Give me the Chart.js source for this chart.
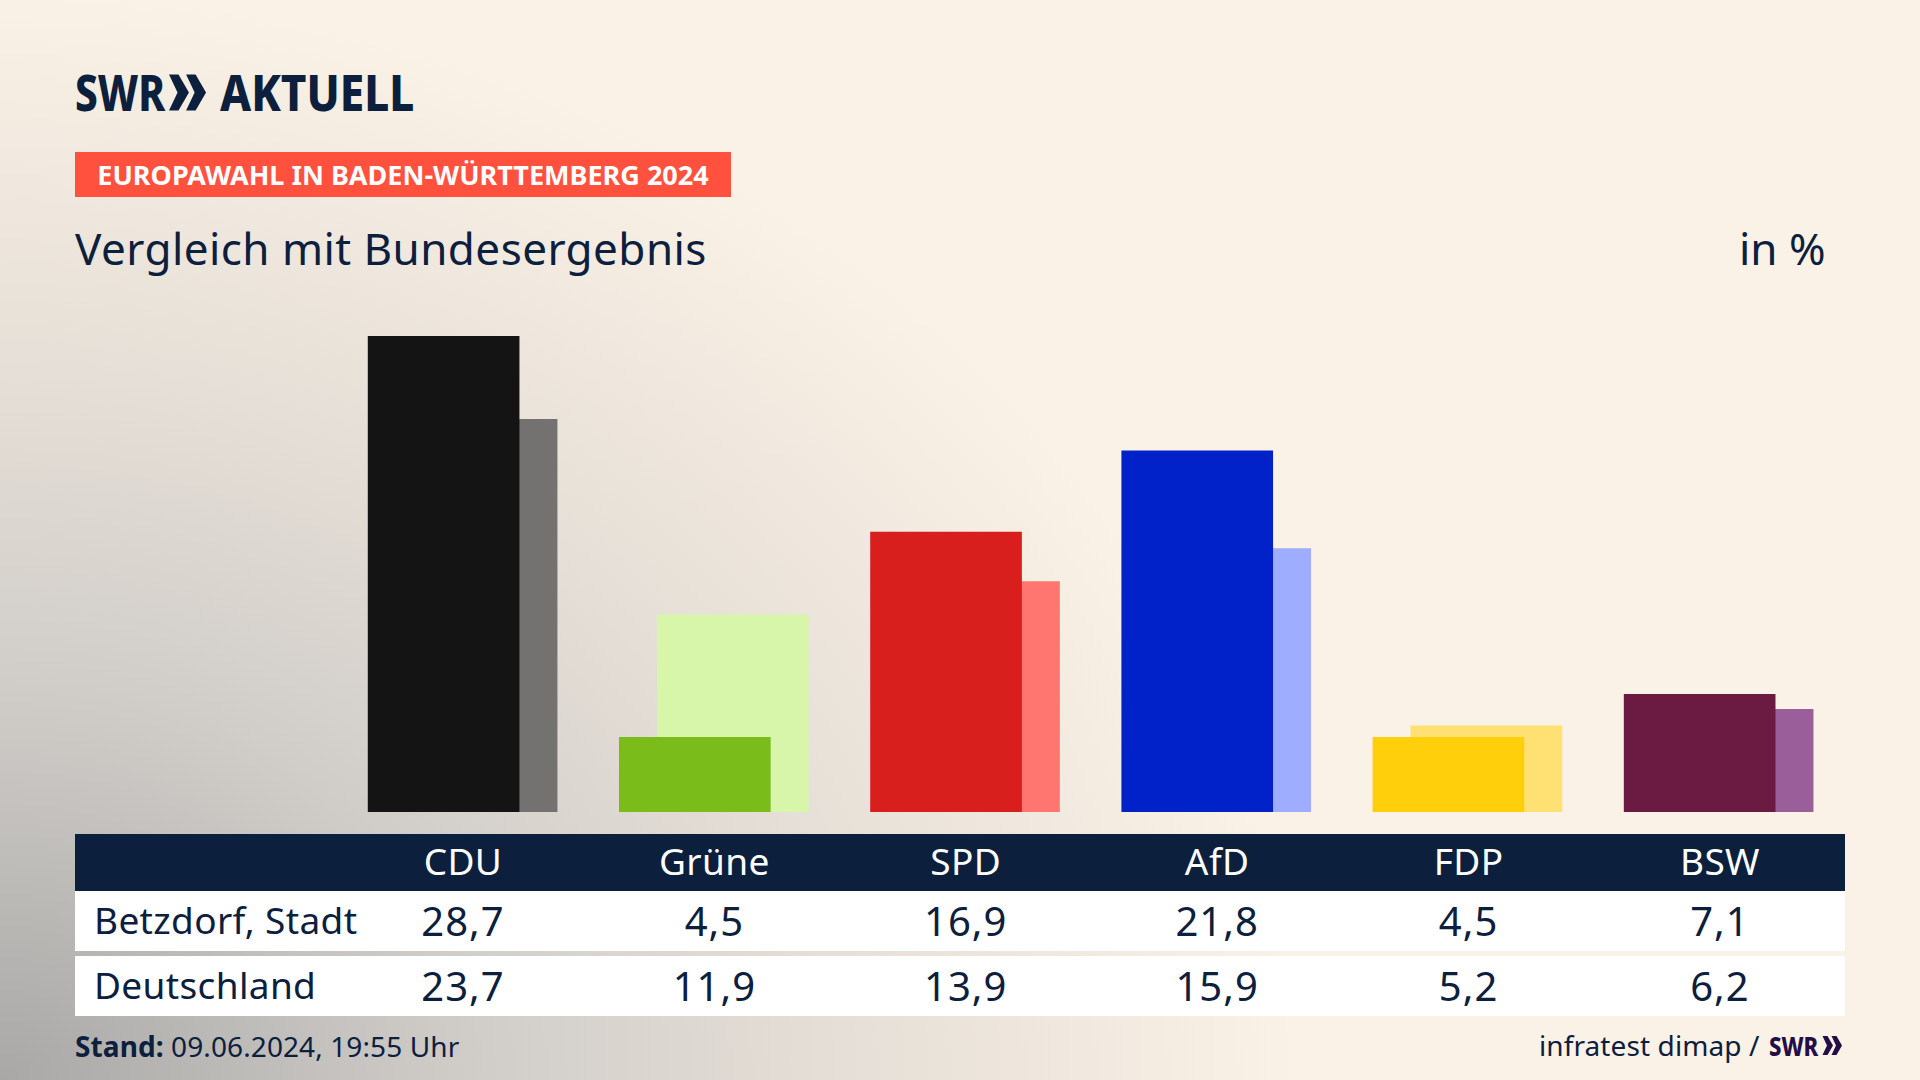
<!DOCTYPE html>
<html lang="de">
<head>
<meta charset="utf-8">
<title>Europawahl in Baden-Württemberg 2024</title>
<script src="https://cdn.jsdelivr.net/npm/chart.js@4"></script>
<style>
  html, body { margin: 0; padding: 0; }
  body {
    width: 1920px; height: 1080px; overflow: hidden; position: relative;
    font-family: "Noto Sans", sans-serif; color: #0c203e;
    background:
      radial-gradient(ellipse 1300px 1090px at 0 100%, #a9a8a6 0%, #cfccc8 35%, #e6dfd7 65%, #faf2e6 100%),
      #faf2e6;
  }
  .abs { position: absolute; white-space: nowrap; }
  #logo-swr { left: 75px; top: 62px; font-size: 50px; line-height: 60px; font-weight: 800; transform: scaleX(0.81); transform-origin: 0 50%; }
  #logo-name { left: 220px; top: 62px; font-size: 50px; line-height: 60px; font-weight: 800; transform: scaleX(0.88); transform-origin: 0 50%; }
  #logo-mark { left: 169px; top: 74px; }
  #tag {
    left: 75px; top: 152px; width: 656px; height: 45px; line-height: 45px; background: #ff513d;
    color: #fff; font-size: 27px; font-weight: 700; text-align: center;
  }
  #title { left: 75px; top: 218px; font-size: 44px; line-height: 60px; letter-spacing: 0.45px; }
  #unit { left: 1739px; top: 218px; font-size: 44px; line-height: 60px; }
  #chart-wrap { position: absolute; left: 75px; top: 300px; width: 1770px; height: 512px; }
  #results { position: absolute; left: 75px; top: 834px; width: 1770px; }
  .row { display: grid; grid-template-columns: 262.3px repeat(6, 251.4px); text-align: center; white-space: nowrap; }
  .row.head { height: 57px; line-height: 54px; background: #0c203e; color: #fff; font-size: 37px; letter-spacing: 0.4px; }
  .row.body { height: 60px; line-height: 60px; background: #fff; font-size: 40px; letter-spacing: 1px; }
  .row.body + .row.body { margin-top: 5px; }
  .row .label { text-align: left; padding-left: 19px; font-size: 37px; letter-spacing: 0.35px; position: relative; top: -1px; }
  #stand { left: 75px; top: 1027px; font-size: 28px; line-height: 38px; letter-spacing: 0.1px; }
  #source { left: 1539px; top: 1026px; font-size: 28px; line-height: 38px; letter-spacing: 0.1px; }
  #source-swr { left: 1769px; top: 1030px; font-size: 26px; line-height: 32px; font-weight: 800; color: #230f46; transform: scaleX(0.85); transform-origin: 0 50%; }
  #source-mark { left: 1822px; top: 1036px; }
</style>
</head>
<body>
  <div class="abs" id="logo-swr">SWR</div>
  <svg class="abs" id="logo-mark" width="38" height="37" viewBox="0 0 40 38" fill="#0c203e"><path d="M0 0h10l11 19-11 19H0l9-19zM18 0h10l11 19-11 19H18l9-19z"/></svg>
  <div class="abs" id="logo-name">AKTUELL</div>
  <div class="abs" id="tag">EUROPAWAHL IN BADEN-WÜRTTEMBERG 2024</div>
  <div class="abs" id="title">Vergleich mit Bundesergebnis</div>
  <div class="abs" id="unit">in %</div>
  <div id="chart-wrap"><canvas id="electionChart"></canvas></div>
  <div id="results"></div>
  <div class="abs" id="stand"><b>Stand:</b> 09.06.2024, 19:55 Uhr</div>
  <div class="abs" id="source">infratest dimap /</div>
  <div class="abs" id="source-swr">SWR</div>
  <svg class="abs" id="source-mark" width="21" height="19" viewBox="0 0 40 38" fill="#230f46"><path d="M0 0h10l11 19-11 19H0l9-19zM18 0h10l11 19-11 19H18l9-19z"/></svg>

<script>
  // Data
  const categories = ['CDU', 'Grüne', 'SPD', 'AfD', 'FDP', 'BSW'];
  const regionName = 'Betzdorf, Stadt';
  const nationName = 'Deutschland';
  const regionValues = [28.7, 4.5, 16.9, 21.8, 4.5, 7.1];
  const nationValues = [23.7, 11.9, 13.9, 15.9, 5.2, 6.2];
  const regionColors = ['#141414', '#7abd1a', '#d81f1e', '#0022c8', '#ffcf0b', '#6b1a41'];
  const nationColors = ['#737270', '#d7f6aa', '#ff7670', '#9fadff', '#ffe073', '#9a5f9a'];

  const fmt = v => v.toFixed(1).replace('.', ',');

  // Table under the chart
  const results = document.getElementById('results');
  function addRow(cls, label, cells) {
    const row = document.createElement('div');
    row.className = 'row ' + cls;
    [label].concat(cells).forEach((txt, i) => {
      const cell = document.createElement('div');
      if (i === 0) cell.className = 'label';
      cell.textContent = txt;
      row.appendChild(cell);
    });
    results.appendChild(row);
  }
  addRow('head', '', categories);
  addRow('body', regionName, regionValues.map(fmt));
  addRow('body', nationName, nationValues.map(fmt));

  // Chart: the two series overlap, so they sit on a linear x scale a little left and right of each column centre
  const barShift = 0.0756;
  const ctx = document.getElementById('electionChart').getContext('2d');
  new Chart(ctx, {
    type: 'bar',
    data: {
      datasets: [
        {
          label: regionName,
          data: regionValues.map((y, i) => ({ x: i - barShift, y })),
          backgroundColor: regionColors,
          barThickness: 151,
          grouped: false
        },
        {
          label: nationName,
          data: nationValues.map((y, i) => ({ x: i + barShift, y })),
          backgroundColor: nationColors,
          barThickness: 151,
          grouped: false
        }
      ]
    },
    options: {
      responsive: true,
      maintainAspectRatio: false,
      animation: false,
      plugins: { legend: { display: false }, tooltip: { enabled: false } },
      scales: {
        x: { type: 'linear', display: false, offset: false, min: -1.543, max: 5.503 },
        y: { display: false, min: 0, max: 30.9 }
      }
    }
  });
</script>
</body>
</html>
